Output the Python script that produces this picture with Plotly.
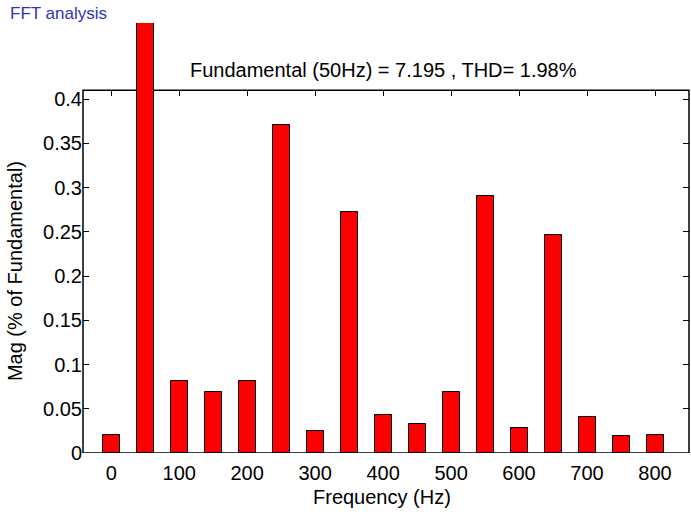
import plotly.graph_objects as go

# Harmonic spectrum (frequency in Hz, magnitude in % of fundamental)
freq = [0, 50, 100, 150, 200, 250, 300, 350, 400, 450, 500, 550, 600, 650, 700, 750, 800]
mag = [0.020, 100.0, 0.081, 0.069, 0.081, 0.371, 0.025, 0.272, 0.043, 0.033,
       0.069, 0.291, 0.028, 0.246, 0.041, 0.019, 0.020]

x_ticks = [0, 100, 200, 300, 400, 500, 600, 700, 800]
y_ticks = [0, 0.05, 0.1, 0.15, 0.2, 0.25, 0.3, 0.35, 0.4]
y_tick_text = ["0", "0.05", "0.1", "0.15", "0.2", "0.25", "0.3", "0.35", "0.4"]

title_text = "Fundamental (50Hz) = 7.195 , THD= 1.98%"
window_text = "FFT analysis"
x_label = "Frequency (Hz)"
y_label = "Mag (% of Fundamental)"

# Axes box limits and the taller visible area above it (the fundamental overshoots)
x_range = [-41.5, 850]
box_top = 0.41
view_top = 0.486

FONT = "Liberation Sans, Arial, sans-serif"

fig = go.Figure()
fig.add_trace(go.Bar(
    x=freq, y=mag, width=25,
    marker=dict(color="#ff0000", line=dict(color="#000000", width=1)),
    showlegend=False, hoverinfo="x+y",
))
# helper trace so the mirrored tick axes are drawn
fig.add_trace(go.Scatter(
    x=freq, y=[0] * len(freq), xaxis="x2", yaxis="y2",
    mode="none", showlegend=False, hoverinfo="skip",
))

fig.update_layout(
    width=691, height=516,
    margin=dict(l=83, r=2, t=23, b=63),
    paper_bgcolor="white", plot_bgcolor="white",
    font=dict(family=FONT, size=20, color="black"),
    bargap=0,
    xaxis=dict(
        range=x_range, tickvals=x_ticks, ticks="", showgrid=False,
        zeroline=False, showline=False, ticklabelstandoff=6,
        tickfont=dict(size=20),
    ),
    yaxis=dict(
        range=[0, view_top], tickvals=y_ticks, ticktext=y_tick_text,
        ticks="inside", ticklen=6, tickcolor="black", tickwidth=1,
        showgrid=False, zeroline=False, showline=False,
        tickfont=dict(size=20),
    ),
    xaxis2=dict(
        overlaying="x", matches="x", anchor="free", position=box_top / view_top,
        side="top", tickvals=x_ticks, ticks="inside", ticklen=5,
        tickcolor="black", showticklabels=False, showgrid=False,
        zeroline=False, showline=False,
    ),
    yaxis2=dict(
        overlaying="y", matches="y", side="right", tickvals=y_ticks,
        ticks="inside", ticklen=6, tickcolor="black", showticklabels=False,
        showgrid=False, zeroline=False, showline=False,
    ),
    shapes=[dict(
        type="rect", xref="x domain", yref="y", x0=0, x1=1, y0=0, y1=box_top,
        line=dict(color="black", width=1.5), layer="below",
    )],
    annotations=[
        dict(text=title_text, xref="paper", yref="paper", x=0.496, y=0.8907,
             xanchor="center", yanchor="middle", showarrow=False,
             font=dict(size=20, color="black")),
        dict(text=window_text, xref="paper", yref="paper", x=-0.1238, y=1.023,
             xanchor="left", yanchor="middle", showarrow=False,
             font=dict(size=17, color="#3333bb")),
        dict(text=y_label, xref="paper", yref="paper", x=-0.1122, y=0.423,
             xanchor="center", yanchor="middle", textangle=-90, showarrow=False,
             font=dict(size=20, color="black")),
        dict(text=x_label, xref="paper", yref="paper", x=0.493, y=-0.102,
             xanchor="center", yanchor="middle", showarrow=False,
             font=dict(size=20, color="black")),
    ],
)

fig.write_html("out.html")
